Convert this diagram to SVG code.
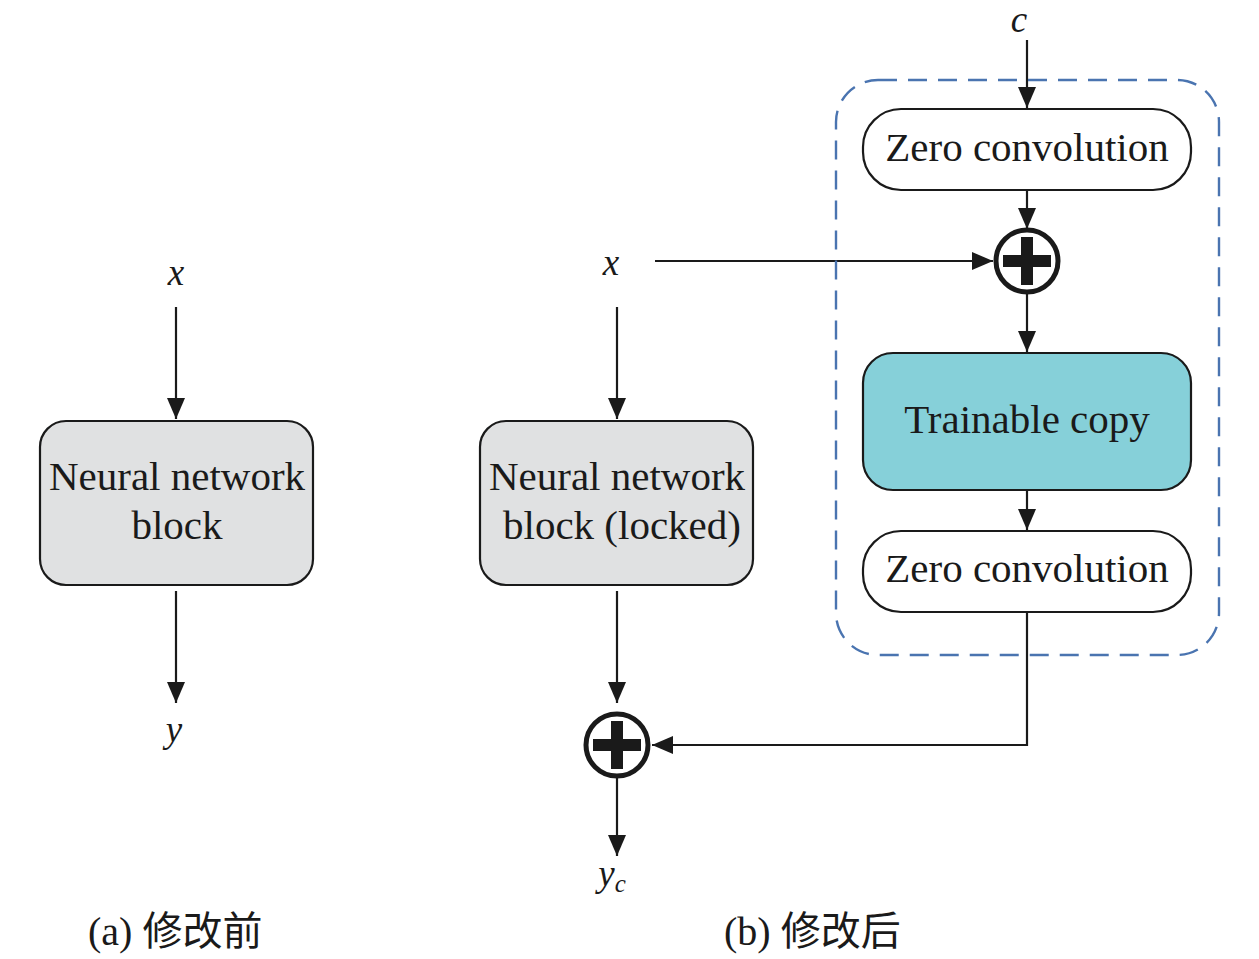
<svg xmlns="http://www.w3.org/2000/svg" width="1259" height="959" viewBox="0 0 1259 959">
<defs>
<marker id="ah" markerUnits="userSpaceOnUse" markerWidth="22" markerHeight="18" refX="21" refY="9" orient="auto">
<path d="M0,0 L21,9 L0,18 Z" fill="#1a1a1a"/>
</marker>
<style>
.box{stroke:#1a1a1a;stroke-width:2.2}
.gray{fill:#e0e1e2}
.white{fill:#fff}
.teal{fill:#86d0d9}
.t{font-family:"Liberation Serif","Times New Roman",serif;font-size:41px;fill:#1a1a1a;text-anchor:middle}
.v{font-family:"Liberation Serif","Times New Roman",serif;font-size:37px;font-style:italic;fill:#1a1a1a;text-anchor:middle}
.cap{font-family:"Liberation Serif","Noto Sans CJK SC",serif;font-size:40px;fill:#1a1a1a}
.ln{stroke:#1a1a1a;stroke-width:2.2;fill:none}
.circ{fill:#fff;stroke:#1a1a1a;stroke-width:5}
.plus{fill:#1a1a1a}
</style>
</defs>
<rect width="1259" height="959" fill="#fff"/>

<g id="connectors">
<line class="ln" x1="176" y1="307" x2="176" y2="419" marker-end="url(#ah)"/>
<line class="ln" x1="176" y1="591" x2="176" y2="703" marker-end="url(#ah)"/>
<line class="ln" x1="617" y1="307" x2="617" y2="419" marker-end="url(#ah)"/>
<line class="ln" x1="617" y1="591" x2="617" y2="703" marker-end="url(#ah)"/>
<line class="ln" x1="617" y1="778" x2="617" y2="856" marker-end="url(#ah)"/>
<line class="ln" x1="1027" y1="40" x2="1027" y2="108" marker-end="url(#ah)"/>
<line class="ln" x1="1027" y1="190" x2="1027" y2="229" marker-end="url(#ah)"/>
<line class="ln" x1="655" y1="261" x2="993" y2="261" marker-end="url(#ah)"/>
<line class="ln" x1="1027" y1="294" x2="1027" y2="352" marker-end="url(#ah)"/>
<line class="ln" x1="1027" y1="490" x2="1027" y2="530" marker-end="url(#ah)"/>
<polyline class="ln" points="1027,612 1027,745 652,745" marker-end="url(#ah)"/>
</g>

<g id="group-b">
<rect x="836" y="80" width="383" height="575" rx="42" fill="none" stroke="#4a74b0" stroke-width="2.4" stroke-dasharray="19,11"/>
</g>

<g id="node-a-block">
<rect class="box gray" x="40" y="421" width="273" height="164" rx="26"/>
<text class="t" x="177" y="490">Neural network</text>
<text class="t" x="177" y="539">block</text>
</g>
<g id="node-a-x"><text class="v" x="176" y="285">x</text></g>
<g id="node-a-y"><text class="v" x="174" y="742">y</text></g>

<g id="node-b-block">
<rect class="box gray" x="480" y="421" width="273" height="164" rx="26"/>
<text class="t" x="617" y="490">Neural network</text>
<text class="t" x="622" y="539">block (locked)</text>
</g>
<g id="node-b-x"><text class="v" x="611" y="275">x</text></g>
<g id="node-c"><text class="v" x="1019" y="32">c</text></g>

<g id="node-zc1">
<rect class="box white" x="863" y="109" width="328" height="81" rx="38"/>
<text class="t" x="1027" y="161">Zero convolution</text>
</g>
<g id="node-add1">
<circle class="circ" cx="1027" cy="261" r="31"/>
<rect class="plus" x="1003" y="255" width="48" height="12"/>
<rect class="plus" x="1021" y="237" width="12" height="48"/>
</g>
<g id="node-trainable">
<rect class="box teal" x="863" y="353" width="328" height="137" rx="30"/>
<text class="t" x="1027" y="433">Trainable copy</text>
</g>
<g id="node-zc2">
<rect class="box white" x="863" y="531" width="328" height="81" rx="38"/>
<text class="t" x="1027" y="582">Zero convolution</text>
</g>
<g id="node-add2">
<circle class="circ" cx="617" cy="745" r="31"/>
<rect class="plus" x="593" y="739" width="48" height="12"/>
<rect class="plus" x="611" y="721" width="12" height="48"/>
</g>
<g id="node-yc">
<text class="v" x="612" y="886">y<tspan font-size="25" dy="6">c</tspan></text>
</g>

<g id="captions">
<text class="cap" x="88" y="945">(a) 修改前</text>
<text class="cap" x="724" y="945">(b) 修改后</text>
</g>
</svg>
